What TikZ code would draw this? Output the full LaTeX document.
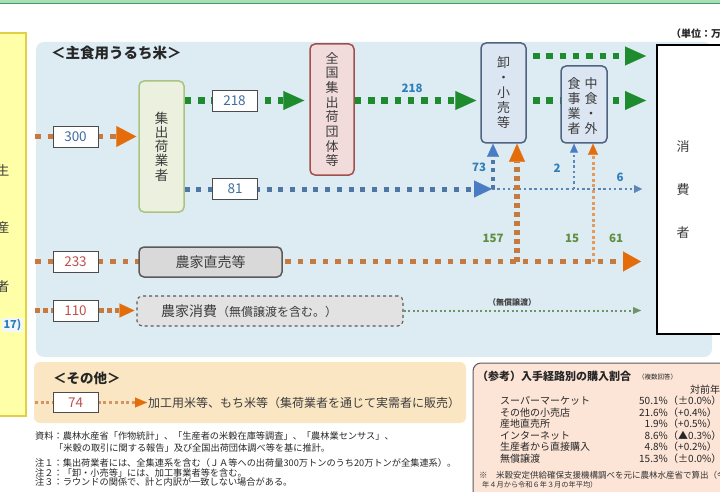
\documentclass[tikz,border=0pt]{standalone}
\usepackage{fontspec}
\setmainfont{Noto Sans CJK JP}
\usetikzlibrary{arrows.meta,calc}
\pgfdeclarelayer{back}
\pgfdeclarelayer{lines}
\pgfsetlayers{back,lines,main}
\newcommand\fsz[2]{\fontsize{#1pt}{#2pt}\selectfont}
\definecolor{panelblue}{HTML}{DDEBF3}
\definecolor{panelbeige}{HTML}{FBE6C4}
\definecolor{refpink}{HTML}{FCE4D6}
\definecolor{yfill}{HTML}{FFFFA8}
\definecolor{ydraw}{HTML}{E3CF45}
\definecolor{gdot}{HTML}{1E8C2E}
\definecolor{odot}{HTML}{C57A40}
\definecolor{oarrow}{HTML}{E46C0A}
\definecolor{bdot}{HTML}{4F77A6}
\definecolor{barrow}{HTML}{4A7CC4}
\definecolor{bthin}{HTML}{5B86BA}
\definecolor{othin}{HTML}{E39A5A}
\definecolor{gthin}{HTML}{6E9466}
\definecolor{txtgray}{HTML}{3C3C3C}
\definecolor{numblue}{HTML}{3E6E9E}
\definecolor{numred}{HTML}{C0504D}
\definecolor{lblblue}{HTML}{2F80B8}
\definecolor{lblgreen}{HTML}{5E8E3E}
\definecolor{shukafill}{HTML}{EBF1DE}
\definecolor{shukadraw}{HTML}{A9C47F}
\definecolor{zenfill}{HTML}{F2DCDB}
\definecolor{zendraw}{HTML}{A0504E}
\definecolor{orofill}{HTML}{DCE6F2}
\definecolor{orodraw}{HTML}{4F6480}
\definecolor{grayfill}{HTML}{D9D9D9}
\definecolor{graydraw}{HTML}{5A5A5A}
\definecolor{nokafill}{HTML}{E2E2E2}
\definecolor{topgreen}{HTML}{A8DDB8}
\definecolor{topdark}{HTML}{3A9F5F}
\begin{document}
\begin{tikzpicture}[x=1pt,y=-1pt,
  txt/.style={inner sep=0pt,text=txtgray},
  numbox/.style={draw=black!70,fill=white,line width=0.8pt,minimum width=45pt,minimum height=21pt,inner sep=0pt,font=\fsz{13.5}{15}},
  vbox/.style={rounded corners=5pt,line width=1.5pt,inner sep=0pt,align=center,text=txtgray},
  gline/.style={draw=gdot,line width=6.5pt,dash pattern=on 6.5pt off 6.8pt,-{Triangle[length=21pt,width=19pt,color=gdot,line width=0.1pt]}},
  oline/.style={draw=odot,line width=5.5pt,dash pattern=on 5.5pt off 7pt,-{Triangle[length=20pt,width=21pt,color=oarrow,line width=0.1pt]}},
  ovline/.style={draw=odot,line width=6pt,dash pattern=on 5pt off 4pt,-{Triangle[length=18pt,width=16pt,color=oarrow,line width=0.1pt]}},
  othinv/.style={draw=othin,line width=3pt,dash pattern=on 3pt off 2.7pt,-{Triangle[length=11pt,width=10pt,color=oarrow,line width=0.1pt]}},
  osmall/.style={draw=odot,line width=4.5pt,dash pattern=on 4.5pt off 3.5pt,-{Triangle[length=15pt,width=14pt,color=oarrow,line width=0.1pt]}},
  otiny/.style={draw=odot!80,line width=3pt,dash pattern=on 3pt off 2.7pt,-{Triangle[length=12pt,width=10pt,color=oarrow,line width=0.1pt]}},
  bline/.style={draw=bdot,line width=5pt,dash pattern=on 5pt off 6.7pt,-{Triangle[length=18pt,width=17pt,color=barrow,line width=0.1pt]}},
  bthinline/.style={draw=bthin,line width=2.5pt,dash pattern=on 2.5pt off 2.8pt,-{Triangle[length=8pt,width=8pt,color=bthin,line width=0.1pt]}},
  bvline/.style={draw=bdot,line width=4pt,dash pattern=on 4pt off 4.3pt,-{Triangle[length=13pt,width=12pt,color=barrow,line width=0.1pt]}},
  bthinv/.style={draw=bthin,line width=2.5pt,dash pattern=on 2.5pt off 2.8pt,-{Triangle[length=9pt,width=8pt,color=barrow,line width=0.1pt]}},
  gthinline/.style={draw=gthin,line width=2pt,dash pattern=on 2pt off 2.5pt,-{Triangle[length=8pt,width=7pt,color=gthin,line width=0.1pt]}},
  lblb/.style={inner sep=0pt,text=lblblue,font=\bfseries\fsz{11.5}{13}},
  lblg/.style={inner sep=0pt,text=lblgreen,font=\bfseries\fsz{11.5}{13}},
  note/.style={inner sep=0pt,anchor=west,text=black!85,font=\fsz{9.2}{11}},
  refrow/.style={inner sep=0pt,anchor=west,text=black!85,font=\fsz{10}{12}},
  refnum/.style={inner sep=0pt,anchor=east,text=black!85,font=\fsz{10}{12}}
]
\useasboundingbox (0,0) rectangle (720,492);

% ---------- backgrounds ----------
\begin{pgfonlayer}{back}
  \fill[topgreen] (0,-1) rectangle (720,3.5);
  \draw[topdark,line width=0.9pt] (-2,3.8) -- (722,3.8);
  \draw[ydraw,fill=yfill,line width=1.3pt] (-10,33) rectangle (26,416);
  \fill[panelblue,rounded corners=8pt] (36,42) rectangle (712,357);
  \fill[panelbeige,rounded corners=6pt] (34,362) rectangle (466,423);
  \draw[graydraw,fill=refpink,line width=1pt,rounded corners=8pt] (473,363) rectangle (745,515);
\end{pgfonlayer}

% ---------- left producer column ----------
\node[txt,font=\fsz{13}{15}] (p1) at (3,170) {生};
\node[txt,font=\fsz{13}{15}] (p2) at (3,228) {産};
\node[txt,font=\fsz{13}{15}] (p3) at (3,287) {者};
\node[fill=white!60!panelblue,text=lblblue,font=\bfseries\fsz{11}{13},anchor=east,inner sep=1.5pt] (n17) at (23,325) {17)};

% ---------- headings ----------
\node[txt,anchor=west,text=black!85,font=\bfseries\fsz{14.5}{16}] (h1) at (51,53) {＜主食用うるち米＞};
\node[txt,anchor=west,text=black!85,font=\bfseries\fsz{10}{12}] (unit) at (671,34) {（単位：万トン）};
\node[txt,anchor=west,text=black!85,font=\bfseries\fsz{13.5}{15}] (h2) at (53,378) {＜その他＞};

% ---------- main boxes ----------
\node[vbox,draw=shukadraw,fill=shukafill,minimum width=45pt,minimum height=131pt,font=\fsz{13.5}{14.3}] (shuka) at (161.5,146.5) {集\\出\\荷\\業\\者};
\node[vbox,draw=zendraw,fill=zenfill,minimum width=44pt,minimum height=131pt,font=\fsz{13}{14.7}] (zenkoku) at (332,109.5) {全\\国\\集\\出\\荷\\団\\体\\等};
\node[vbox,draw=orodraw,fill=orofill,minimum width=45pt,minimum height=100pt,font=\fsz{13}{15}] (oroshi) at (503.5,93) {卸\\・\\小\\売\\等};
\node[vbox,draw=orodraw,fill=orofill,minimum width=46pt,minimum height=77pt] (chushoku) at (584,104.5) {};
\node[txt,align=center,font=\fsz{13}{15}] (chuR) at (591,106) {中\\食\\・\\外};
\node[txt,align=center,font=\fsz{13}{15}] (chuL) at (574,106) {食\\事\\業\\者};
\node[draw=black,fill=white,line width=2pt,minimum width=80pt,minimum height=289pt,inner sep=0pt] (cons) at (697,189.5) {};
\node[txt,align=center,font=\fsz{13}{43}] (consT) at (683,190) {消\\費\\者};

\node[draw=graydraw,fill=grayfill,line width=1.5pt,rounded corners=5pt,minimum width=143pt,minimum height=30pt,inner sep=0pt,text=txtgray,font=\fsz{14}{16}] (chokubai) at (210.5,262) {農家直売等};
\node[draw=graydraw,fill=nokafill,line width=1.1pt,dashed,rounded corners=5pt,minimum width=266pt,minimum height=30pt,inner sep=0pt] (noka) at (270,311) {};
\node[txt,anchor=west] (nokaT) at (161,311) {{\fsz{14}{16}農家消費}{\fsz{12}{14}（無償譲渡を含む。）}};

\node[txt,anchor=west,font=\fsz{12}{14}] (kakou) at (148,402.5) {加工用米等、もち米等（集荷業者を通じて実需者に販売）};

% ---------- number boxes ----------
\node[numbox,text=numblue] (n300) at (75.5,136.5) {300};
\node[numbox,text=numred] (n233) at (75.5,261.5) {233};
\node[numbox,text=numred] (n110) at (75.5,310.5) {110};
\node[numbox,text=numred,minimum height=20pt] (n74) at (75.5,402.5) {74};
\node[numbox,text=numblue] (n218a) at (234.5,100.5) {218};
\node[numbox,text=numblue] (n81) at (235,189) {81};

% ---------- value labels ----------
\node[lblb] (t218) at (412,88) {218};
\node[lblb] (t73) at (479,167) {73};
\node[lblb] (t2) at (557,168) {2};
\node[lblb] (t6) at (620,177) {6};
\node[lblg] (t157) at (493,238) {157};
\node[lblg] (t15) at (572,238) {15};
\node[lblg] (t61) at (616,238) {61};
\node[inner sep=0pt,text=black!75,font=\bfseries\fsz{8}{10}] (tmusho) at (512,302) {（無償譲渡）};

% ---------- coordinates ----------
\coordinate (s300) at (35,136.5);
\coordinate (s233) at (35,261.5);
\coordinate (s110) at (35,310.5);
\coordinate (s74) at (35,402.5);
\coordinate (j81) at (492,189);
\coordinate (v157) at (517,261.5);
\coordinate (v15) at (593,261.5);
\coordinate (v73) at (493,189);
\coordinate (v2) at (574,189);
\coordinate (g56) at (533,56);
\coordinate (g100) at (533,100.5);

% ---------- connectors ----------
\begin{pgfonlayer}{lines}
  \draw[oline,shorten >=2pt] (s300) -- (shuka.west |- n300);
  \draw[gline,shorten >=5pt] (shuka.east |- n218a) -- (zenkoku.west |- n218a);
  \draw[gline,shorten >=4pt] (zenkoku.east |- n218a) -- (oroshi.west |- n218a);
  \draw[gline,shorten >=10pt] (g56) -- (cons.west |- g56);
  \draw[gline,shorten >=10pt] (g100) -- (cons.west |- g100);
  \draw[bthinline,shorten >=14pt] (j81) -- (cons.west |- j81);
  \draw[bline] (shuka.east |- n81) -- (j81);
  \draw[oline,-{Triangle[length=18pt,width=20pt,color=oarrow,line width=0.1pt]},shorten >=15pt] (s233) -- (cons.west |- n233);
  \draw[bvline] (v73) -- (v73 |- oroshi.south);
  \draw[bthinv] (v2) -- (v2 |- chushoku.south);
  \draw[ovline] (v157) -- (v157 |- oroshi.south);
  \draw[othinv] (v15) -- (v15 |- chushoku.south);
  \draw[osmall,shorten >=2pt] (s110) -- (noka.west |- n110);
  \draw[gthinline,shorten >=15pt] (noka.east |- n110) -- (cons.west |- n110);
  \draw[otiny,shorten >=1pt] (s74) -- (kakou.west);
\end{pgfonlayer}

% ---------- notes ----------
\node[note] (nt1) at (35,436) {資料：農林水産省「作物統計」、「生産者の米穀在庫等調査」、「農林業センサス」、};
\node[note] (nt2) at (54,448) {「米穀の取引に関する報告」及び全国出荷団体調べ等を基に推計。};
\node[note] (nt3) at (35,463) {注１：集出荷業者には、全集連系を含む（ＪＡ等への出荷量300万トンのうち20万トンが全集連系）。};
\node[note] (nt4) at (35,472.5) {注２：「卸・小売等」には、加工事業者等を含む。};
\node[note] (nt5) at (35,482) {注３：ラウンドの関係で、計と内訳が一致しない場合がある。};

% ---------- reference box ----------
\node[inner sep=0pt,anchor=west,text=black!85,font=\bfseries\fsz{11}{13}] (rt) at (477,376) {（参考）入手経路別の購入割合};
\node[inner sep=0pt,anchor=west,text=black!85,font=\fsz{6.5}{8}] (rt2) at (638,377) {（複数回答）};
\node[refrow] (rh) at (690,390) {対前年比};
\node[refrow] (r1) at (500,401) {スーパーマーケット};
\node[refrow] (r2) at (500,412.5) {その他の小売店};
\node[refrow] (r3) at (500,424) {産地直売所};
\node[refrow] (r4) at (500,435.5) {インターネット};
\node[refrow] (r5) at (500,447) {生産者から直接購入};
\node[refrow] (r6) at (500,458.5) {無償譲渡};
\node[refnum] (q1) at (668,401) {50.1\%};
\node[refnum] (q2) at (668,412.5) {21.6\%};
\node[refnum] (q3) at (668,424) {1.9\%};
\node[refnum] (q4) at (668,435.5) {8.6\%};
\node[refnum] (q5) at (668,447) {4.8\%};
\node[refnum] (q6) at (668,458.5) {15.3\%};
\node[refrow] (d1) at (668,401) {（±0.0\%）};
\node[refrow] (d2) at (668,412.5) {（+0.4\%）};
\node[refrow] (d3) at (668,424) {（+0.5\%）};
\node[refrow] (d4) at (668,435.5) {（▲0.3\%）};
\node[refrow] (d5) at (668,447) {（+0.2\%）};
\node[refrow] (d6) at (668,458.5) {（±0.0\%）};
\node[inner sep=0pt,anchor=west,text=black!80,font=\fsz{8.5}{10}] (rn1) at (479,475) {※　米穀安定供給確保支援機構調べを元に農林水産省で算出（令和５};
\node[inner sep=0pt,anchor=west,text=black!80,font=\fsz{7.2}{9}] (rn2) at (482,484.5) {年４月から令和６年３月の年平均）};
\end{tikzpicture}
\end{document}
